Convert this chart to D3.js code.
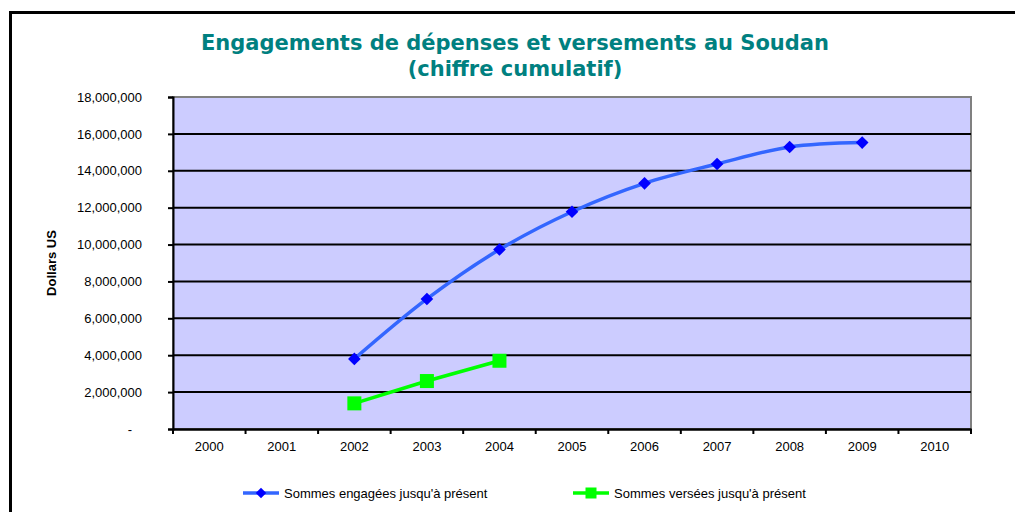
<!doctype html>
<html lang="fr">
<head>
  <meta charset="utf-8">
  <title>Engagements de dépenses et versements au Soudan</title>
  <script src="https://cdn.jsdelivr.net/npm/d3@7"></script>
  <style>
    body { margin: 0; background: #fff; }
    svg { display: block; }
  </style>
</head>
<body>
  <svg width="1015" height="512"></svg>
  <script>
    // data
    var years = ["2000","2001","2002","2003","2004","2005","2006","2007","2008","2009","2010"];
    var engYears = ["2002","2003","2004","2005","2006","2007","2008","2009"];
    var engValues = [3800000, 7050000, 9730000, 11780000, 13320000, 14370000, 15290000, 15530000];
    var versYears = ["2002","2003","2004"];
    var versValues = [1390000, 2600000, 3700000];
    var yTicks = [0, 2000000, 4000000, 6000000, 8000000, 10000000, 12000000, 14000000, 16000000, 18000000];
    var seriesNames = ["Sommes engagées jusqu'à présent", "Sommes versées jusqu'à présent"];

    var svg = d3.select("svg");
    var plotL = 173, plotR = 971, plotT = 97, plotB = 429; // window.top is taken, so no "top" here
    var font = "Liberation Sans, Arial, sans-serif";

    // outer frame (runs off the right and bottom edge)
    svg.append("path")
      .attr("d", "M10.5,520 V12.5 H1020")
      .attr("fill", "none").attr("stroke", "#000").attr("stroke-width", 3);

    // title
    var title = svg.append("text")
      .attr("text-anchor", "middle")
      .style("font-family", "DejaVu Sans, Verdana, sans-serif")
      .style("font-weight", "bold").style("font-size", "21px")
      .attr("fill", "#008080");
    title.append("tspan").attr("x", 515).attr("y", 50).text("Engagements de dépenses et versements au Soudan");
    title.append("tspan").attr("x", 515).attr("y", 76).text("(chiffre cumulatif)");

    var x = d3.scaleBand().domain(years).range([plotL, plotR]);
    var y = d3.scaleLinear().domain([0, 18000000]).range([plotB, plotT]);

    // plot area
    svg.append("rect")
      .attr("x", plotL).attr("y", plotT)
      .attr("width", plotR - plotL).attr("height", plotB - plotT)
      .attr("fill", "#ccccff").attr("stroke", "#808080").attr("stroke-width", 2);

    // gridlines
    svg.append("g").selectAll("line")
      .data(yTicks.filter(d => d > 0 && d < 18000000))
      .enter().append("line")
        .attr("x1", plotL).attr("x2", plotR)
        .attr("y1", d => y(d)).attr("y2", d => y(d))
        .attr("stroke", "#000").attr("stroke-width", 2);

    // y axis
    var yAxis = d3.axisLeft(y).tickValues(yTicks).tickSize(5).tickPadding(26)
      .tickFormat(d => d === 0 ? "-" : d3.format(",")(d));
    var gy = svg.append("g").attr("transform", `translate(${plotL},0)`).call(yAxis);
    gy.select(".domain").attr("stroke-width", 2);
    gy.selectAll(".tick line").attr("stroke-width", 2);
    gy.selectAll("text").style("font-family", font)
      .style("font-size", "13px").attr("fill", "#000");
    gy.selectAll(".tick").filter(d => d === 0).select("text").attr("dx", "-10");

    // x axis with ticks between categories
    var xAxis = d3.axisBottom(x).tickSize(0).tickPadding(13);
    var gx = svg.append("g").attr("transform", `translate(0,${plotB})`).call(xAxis);
    gx.select(".domain").attr("stroke-width", 2.5);
    gx.selectAll("text").style("font-family", font)
      .style("font-size", "13px").attr("fill", "#000");
    gx.selectAll("line.cat").data(years.concat(["end"])).enter().append("line")
      .attr("class", "cat")
      .attr("x1", (d, i) => plotL + i * x.step()).attr("x2", (d, i) => plotL + i * x.step())
      .attr("y1", 0).attr("y2", 5)
      .attr("stroke", "#000").attr("stroke-width", 2);

    // y axis title
    svg.append("text")
      .attr("transform", "translate(56,263) rotate(-90)")
      .attr("text-anchor", "middle")
      .style("font-family", font)
      .style("font-weight", "bold").style("font-size", "13px")
      .text("Dollars US");

    var cx = d => x(d) + x.bandwidth() / 2;

    // engagées: smoothed blue line with diamonds
    var eng = engYears.map((d, i) => ({ year: d, value: engValues[i] }));
    svg.append("path").datum(eng)
      .attr("d", d3.line().x(d => cx(d.year)).y(d => y(d.value)).curve(d3.curveCatmullRom.alpha(0.5)))
      .attr("fill", "none").attr("stroke", "#3366ff").attr("stroke-width", 3.5);
    svg.append("g").selectAll("path").data(eng).enter().append("path")
      .attr("d", d3.symbol(d3.symbolSquare, 80))
      .attr("transform", d => `translate(${cx(d.year)},${y(d.value)}) rotate(45)`)
      .attr("fill", "#0000ff");

    // versées: green line with squares
    var vers = versYears.map((d, i) => ({ year: d, value: versValues[i] }));
    svg.append("path").datum(vers)
      .attr("d", d3.line().x(d => cx(d.year)).y(d => y(d.value)))
      .attr("fill", "none").attr("stroke", "#00ff00").attr("stroke-width", 3.5);
    svg.append("g").selectAll("rect").data(vers).enter().append("rect")
      .attr("x", d => cx(d.year) - 7).attr("y", d => y(d.value) - 7)
      .attr("width", 14).attr("height", 14)
      .attr("fill", "#00ff00");

    // legend
    var legend = svg.append("g").style("font-family", font).style("font-size", "13px");
    var legX = [243, 573];
    legX.forEach((lx, i) => {
      var g = legend.append("g").attr("transform", `translate(${lx},493)`);
      g.append("line").attr("x1", 0).attr("x2", 36).attr("y1", 0).attr("y2", 0)
        .attr("stroke", i === 0 ? "#3366ff" : "#00ff00").attr("stroke-width", 3.5);
      if (i === 0) {
        g.append("path").attr("d", d3.symbol(d3.symbolSquare, 55))
          .attr("transform", "translate(18,0) rotate(45)").attr("fill", "#0000ff");
      } else {
        g.append("rect").attr("x", 12.5).attr("y", -5.5).attr("width", 11).attr("height", 11).attr("fill", "#00ff00");
      }
      g.append("text").attr("x", 41).attr("y", 4.5).text(seriesNames[i]);
    });
  </script>
</body>
</html>
